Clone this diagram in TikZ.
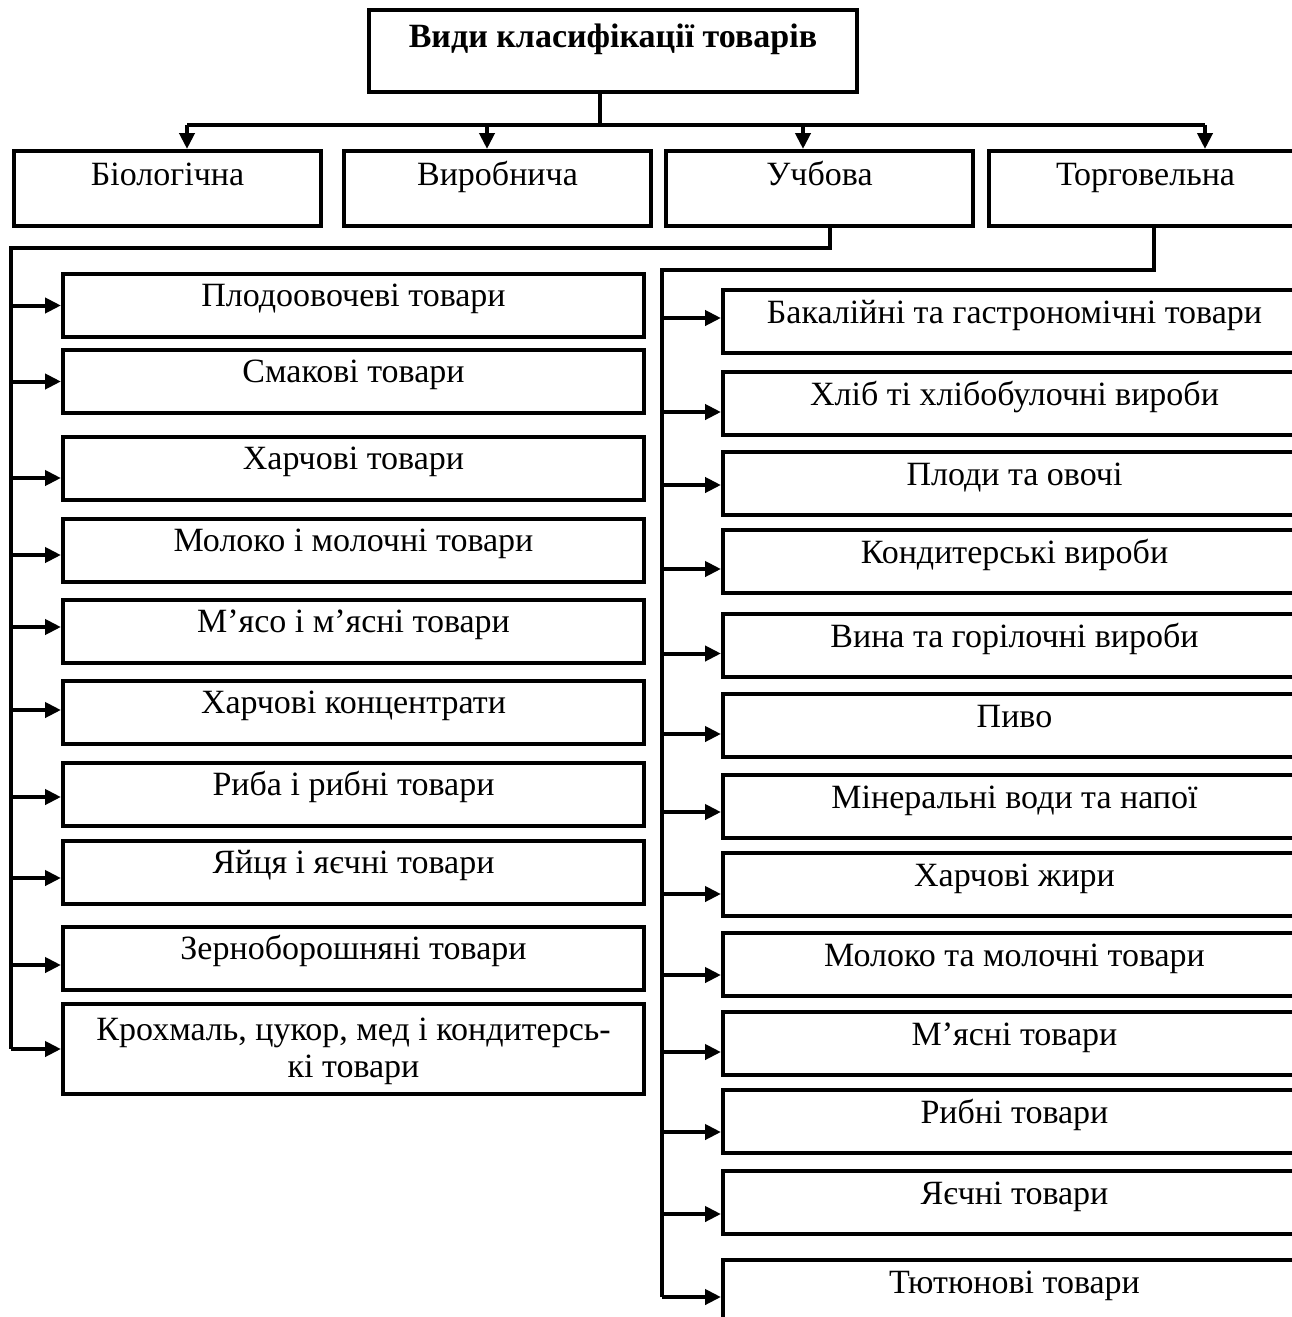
\documentclass[tikz,border=0pt]{standalone}
\usepackage{fontspec}
\setmainfont{Liberation Serif}
\usetikzlibrary{arrows.meta}

\tikzset{
  itemFont/.style={font=\fontsize{34}{37}\selectfont},
  frameBox/.style={draw, line width=4pt, inner sep=0pt, anchor=north west, itemFont},
  catBox/.style={frameBox, minimum width=307pt, text height=34pt, text depth=41pt},
  leftItem/.style={frameBox, minimum width=581pt, text height=32pt, text depth=31pt},
  rightItem/.style={frameBox, minimum width=583pt, text height=33pt, text depth=30pt},
  conn/.style={line width=4pt},
  arr/.style={conn, -{Triangle[length=16pt, width=15pt]}}
}

\begin{document}
\begin{tikzpicture}[x=1pt, y=-1pt]
  \useasboundingbox (0,0) rectangle (1292,1317);

  % root of the tree
  \node[frameBox, minimum width=488pt, text height=37pt, text depth=45pt,
        font=\fontsize{34}{37}\selectfont\bfseries] (root) at (367,8) {Види класифікації товарів};

  % four kinds of classification
  \node[catBox] (bio) at (12,149) {Біологічна};
  \node[catBox] (prod) at (342,149) {Виробнича};
  \node[catBox] (edu) at (664,149) {Учбова};
  \node[catBox, minimum width=313pt] (trade) at (987,149) {Торговельна};

  \coordinate (hub) at (600,125);
  \draw[conn] (root.south -| hub) -- (hub);
  \draw[conn] ([xshift=19.5]bio.north |- hub) -- ([xshift=59.5]trade.north |- hub);
  \foreach \n/\dx in {bio/19.5, prod/-10.5, edu/-16.5, trade/59.5}
    \draw[arr] ([xshift=\dx]\n.north |- hub) -- ([xshift=\dx]\n.north);

  % groups of the educational classification
  \node[leftItem] (l1) at (61,272) {Плодоовочеві товари};
  \node[leftItem] (l2) at (61,348) {Смакові товари};
  \node[leftItem] (l3) at (61,435) {Харчові товари};
  \node[leftItem] (l4) at (61,517) {Молоко і молочні товари};
  \node[leftItem] (l5) at (61,598) {М’ясо і м’ясні товари};
  \node[leftItem] (l6) at (61,679) {Харчові концентрати};
  \node[leftItem] (l7) at (61,761) {Риба і рибні товари};
  \node[leftItem] (l8) at (61,839) {Яйця і яєчні товари};
  \node[leftItem] (l9) at (61,925) {Зерноборошняні товари};
  \node[leftItem, align=center, text height=73pt, text depth=17pt] (l10) at (61,1002)
    {Крохмаль, цукор, мед і кондитерсь-\\кі товари};

  \coordinate (leftBus) at (11,248);
  \draw[conn] ([xshift=10.5]edu.south) |- (leftBus) -- (leftBus |- l10.west);
  \foreach \n/\dy in {l1/0, l2/0, l3/-9.5, l4/-4.5, l5/4.5, l6/2.5, l7/-2.5, l8/-5.5, l9/-6.5, l10/0}
    \draw[arr] ([yshift=\dy]\n.west -| leftBus) -- ([yshift=\dy]\n.west);

  % groups of the trade classification
  \node[rightItem] (r1) at (721,288) {Бакалійні та гастрономічні товари};
  \node[rightItem] (r2) at (721,370) {Хліб ті хлібобулочні вироби};
  \node[rightItem] (r3) at (721,450) {Плоди та овочі};
  \node[rightItem] (r4) at (721,528) {Кондитерські вироби};
  \node[rightItem] (r5) at (721,612) {Вина та горілочні вироби};
  \node[rightItem] (r6) at (721,692) {Пиво};
  \node[rightItem] (r7) at (721,773) {Мінеральні води та напої};
  \node[rightItem] (r8) at (721,851) {Харчові жири};
  \node[rightItem] (r9) at (721,931) {Молоко та молочні товари};
  \node[rightItem] (r10) at (721,1010) {М’ясні товари};
  \node[rightItem] (r11) at (721,1088) {Рибні товари};
  \node[rightItem] (r12) at (721,1169) {Яєчні товари};
  \node[rightItem] (r13) at (721,1258) {Тютюнові товари};

  \coordinate (rightBus) at (662,270);
  \draw[conn] ([xshift=8.5]trade.south) |- (rightBus) -- ([yshift=-5.5]rightBus |- r13.west);
  \foreach \n/\dy in {r1/3.5, r2/-8.5, r3/-1.5, r4/-7.5, r5/-8, r6/-8.5, r7/-5.5, r8/-9.5,
                      r9/-10.5, r10/-8.5, r11/-10.5, r12/-11.5, r13/-5.5}
    \draw[arr] ([yshift=\dy]\n.west -| rightBus) -- ([yshift=\dy]\n.west);

\end{tikzpicture}
\end{document}
